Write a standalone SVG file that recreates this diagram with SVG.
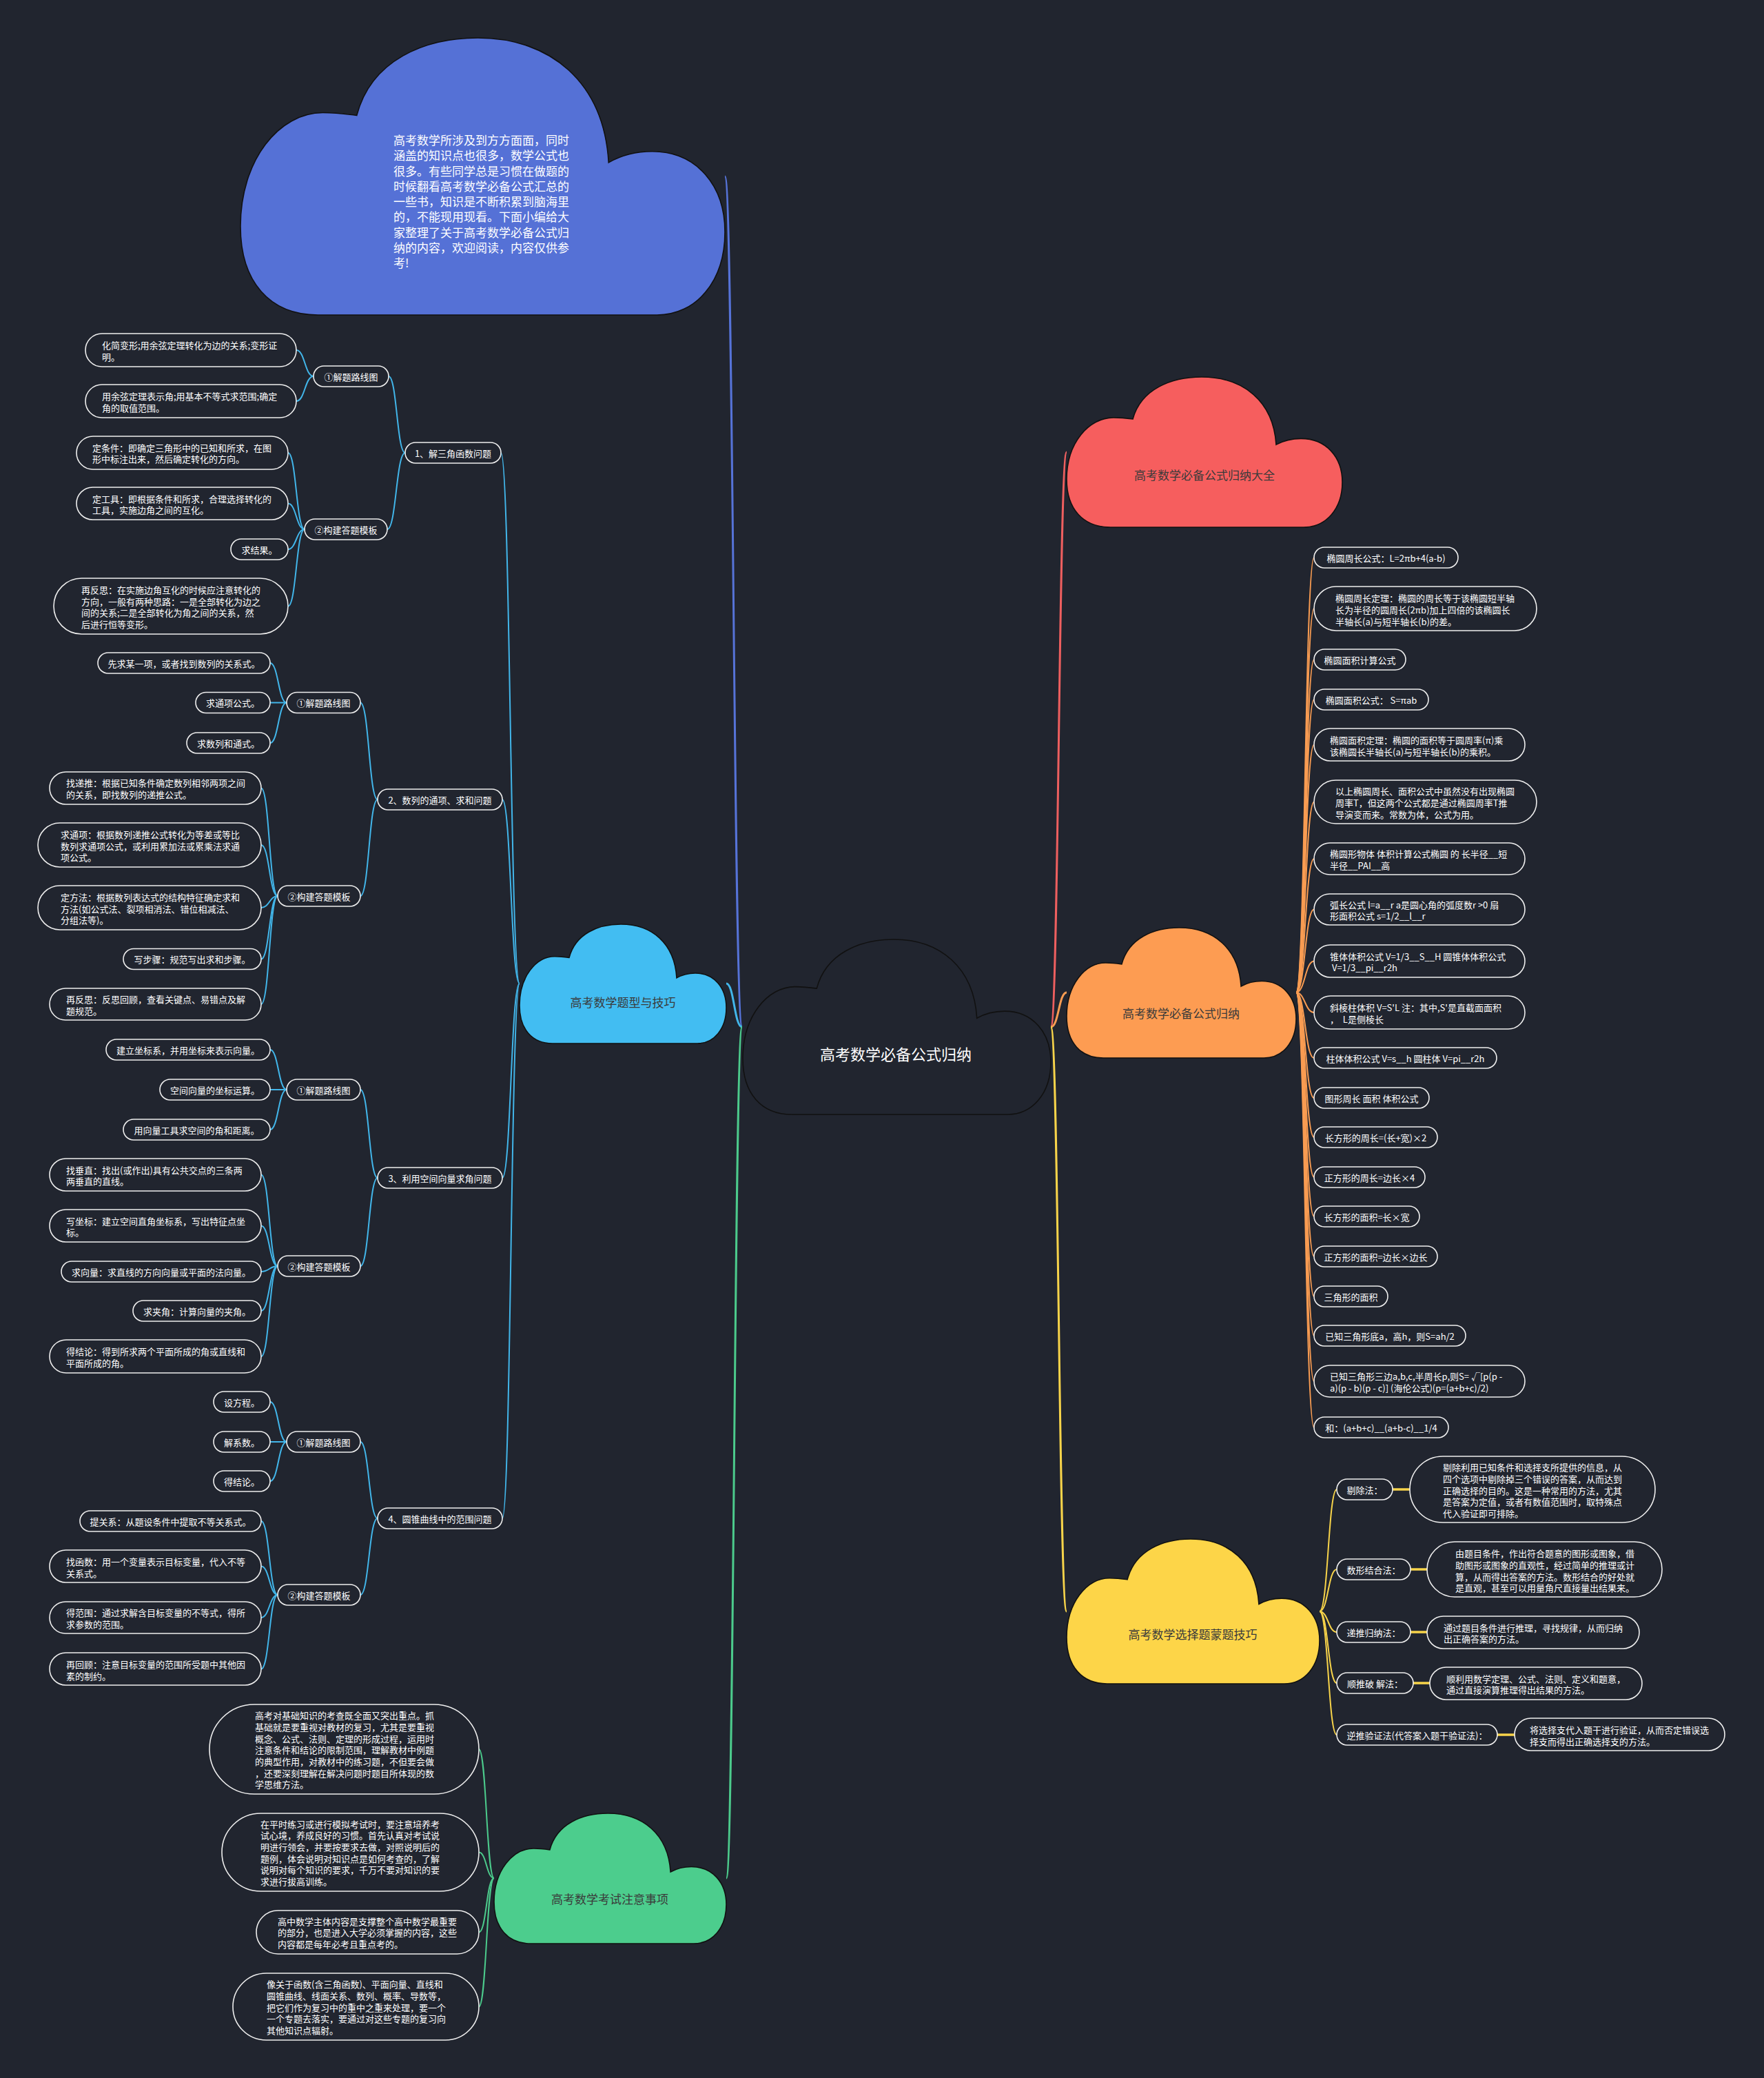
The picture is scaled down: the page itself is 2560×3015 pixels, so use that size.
<svg xmlns="http://www.w3.org/2000/svg" xmlns:xlink="http://www.w3.org/1999/xlink" width="2560" height="3015" viewBox="0 0 2560 3015">
<style>
.t{font-family:"Noto Sans CJK SC","Noto Sans",sans-serif;font-size:13px;fill:#ffffff;dominant-baseline:central}
.m{text-anchor:middle}
.nd rect{fill:#21252f;stroke:#eeeeee;stroke-width:1.6}
.cl{font-family:"Noto Sans CJK SC","Noto Sans",sans-serif;font-size:17px;fill:#3a3a3a;text-anchor:middle;dominant-baseline:central}
.lb{fill:none;stroke:#42b6ea;stroke-width:2}
.gr{fill:none;stroke:#4ccb8c;stroke-width:2}
.or{fill:none;stroke:#f99c52;stroke-width:2}
.ye{fill:none;stroke:#f8d44a;stroke-width:2}
.ye3{fill:none;stroke:#f8d44a;stroke-width:3.5}
</style>
<defs>
<path id="cloud" d="M16 100 C6 100 0 88 0 68 C0 44 8 27 17 27 C20 27 22 27.5 24 28 C27 8 38 0 49 0 C64 0 75 16 76 45 C79 42 82 41 85 41 C94 41 100 53 100 70 C100 88 94 100 86 100 Z" stroke="#111111" stroke-width="1.6" vector-effect="non-scaling-stroke"/>
</defs>
<rect x="0" y="0" width="2560" height="3015" fill="#21252f"/>

<g id="connectors">
<path d="M1077 1490 C1064.5 1490 1064.5 256 1052 256" fill="none" stroke="#5673d8" stroke-width="3"/>
<path d="M1077 1490 C1065.5 1490 1065.5 1427 1054 1427" fill="none" stroke="#42b6ea" stroke-width="3"/>
<path d="M1077 1490 C1065.5 1490 1065.5 2725 1054 2725" fill="none" stroke="#4ccb8c" stroke-width="3"/>
<path d="M1525 1490 C1536.5 1490 1536.5 656 1548 656" fill="none" stroke="#ee5f5f" stroke-width="3"/>
<path d="M1525 1490 C1536.5 1490 1536.5 1440 1548 1440" fill="none" stroke="#f99c52" stroke-width="3"/>
<path d="M1525 1490 C1536.5 1490 1536.5 2338 1548 2338" fill="none" stroke="#f8d44a" stroke-width="3"/>
<!-- light blue -->
<path class="lb" d="M754 1427 C740.5 1427 740.5 657 727 657"/>
<path class="lb" d="M754 1427 C741.5 1427 741.5 1160 729 1160"/>
<path class="lb" d="M754 1427 C741.5 1427 741.5 1709 729 1709"/>
<path class="lb" d="M754 1427 C741.5 1427 741.5 2203 729 2203"/>
<path class="lb" d="M588 657 C576 657 576 546 564 546"/>
<path class="lb" d="M588 657 C575 657 575 768 562 768"/>
<path class="lb" d="M455 546 C442.5 546 442.5 508 430 508"/>
<path class="lb" d="M455 546 C442.5 546 442.5 582 430 582"/>
<path class="lb" d="M442 768 C430 768 430 657 418 657"/>
<path class="lb" d="M442 768 C430 768 430 730.5 418 730.5"/>
<path class="lb" d="M442 768 C430 768 430 797 418 797"/>
<path class="lb" d="M442 768 C430 768 430 879.5 418 879.5"/>
<path class="lb" d="M548 1160 C535.5 1160 535.5 1019.5 523 1019.5"/>
<path class="lb" d="M548 1160 C535.5 1160 535.5 1300 523 1300"/>
<path class="lb" d="M416 1019.5 C404 1019.5 404 962 392 962"/>
<path class="lb" d="M416 1019.5 C404 1019.5 404 1019.5 392 1019.5"/>
<path class="lb" d="M416 1019.5 C404 1019.5 404 1078 392 1078"/>
<path class="lb" d="M403 1300 C391 1300 391 1143.5 379 1143.5"/>
<path class="lb" d="M403 1300 C391 1300 391 1226 379 1226"/>
<path class="lb" d="M403 1300 C391 1300 391 1317 379 1317"/>
<path class="lb" d="M403 1300 C391 1300 391 1391.5 379 1391.5"/>
<path class="lb" d="M403 1300 C391 1300 391 1457 379 1457"/>
<path class="lb" d="M548 1709 C535.5 1709 535.5 1581 523 1581"/>
<path class="lb" d="M548 1709 C535.5 1709 535.5 1837 523 1837"/>
<path class="lb" d="M416 1581 C404 1581 404 1523 392 1523"/>
<path class="lb" d="M416 1581 C404 1581 404 1581 392 1581"/>
<path class="lb" d="M416 1581 C404 1581 404 1639 392 1639"/>
<path class="lb" d="M403 1837 C391 1837 391 1704.5 379 1704.5"/>
<path class="lb" d="M403 1837 C391 1837 391 1778.5 379 1778.5"/>
<path class="lb" d="M403 1837 C391 1837 391 1845 379 1845"/>
<path class="lb" d="M403 1837 C391 1837 391 1902 379 1902"/>
<path class="lb" d="M403 1837 C391 1837 391 1968 379 1968"/>
<path class="lb" d="M548 2203 C535.5 2203 535.5 2092 523 2092"/>
<path class="lb" d="M548 2203 C535.5 2203 535.5 2314 523 2314"/>
<path class="lb" d="M416 2092 C404 2092 404 2034 392 2034"/>
<path class="lb" d="M416 2092 C404 2092 404 2092 392 2092"/>
<path class="lb" d="M416 2092 C404 2092 404 2149 392 2149"/>
<path class="lb" d="M403 2314 C391 2314 391 2207 379 2207"/>
<path class="lb" d="M403 2314 C391 2314 391 2272.5 379 2272.5"/>
<path class="lb" d="M403 2314 C391 2314 391 2347 379 2347"/>
<path class="lb" d="M403 2314 C391 2314 391 2421.5 379 2421.5"/>
<!-- green -->
<path class="gr" d="M717 2725 C706 2725 706 2538 695 2538"/>
<path class="gr" d="M717 2725 C706 2725 706 2687.5 695 2687.5"/>
<path class="gr" d="M717 2725 C706 2725 706 2803.5 695 2803.5"/>
<path class="gr" d="M717 2725 C706 2725 706 2911.5 695 2911.5"/>
<!-- orange -->
<path class="or" d="M1881 1440 C1894 1440 1894 809 1907 809"/>
<path class="or" d="M1881 1440 C1894 1440 1894 883 1907 883"/>
<path class="or" d="M1881 1440 C1894 1440 1894 957 1907 957"/>
<path class="or" d="M1881 1440 C1894 1440 1894 1015 1907 1015"/>
<path class="or" d="M1881 1440 C1894 1440 1894 1080.5 1907 1080.5"/>
<path class="or" d="M1881 1440 C1894 1440 1894 1163.5 1907 1163.5"/>
<path class="or" d="M1881 1440 C1894 1440 1894 1246 1907 1246"/>
<path class="or" d="M1881 1440 C1894 1440 1894 1319.5 1907 1319.5"/>
<path class="or" d="M1881 1440 C1894 1440 1894 1394.5 1907 1394.5"/>
<path class="or" d="M1881 1440 C1894 1440 1894 1469 1907 1469"/>
<path class="or" d="M1881 1440 C1894 1440 1894 1535 1907 1535"/>
<path class="or" d="M1881 1440 C1894 1440 1894 1593 1907 1593"/>
<path class="or" d="M1881 1440 C1894 1440 1894 1650 1907 1650"/>
<path class="or" d="M1881 1440 C1894 1440 1894 1708 1907 1708"/>
<path class="or" d="M1881 1440 C1894 1440 1894 1765 1907 1765"/>
<path class="or" d="M1881 1440 C1894 1440 1894 1823 1907 1823"/>
<path class="or" d="M1881 1440 C1894 1440 1894 1881 1907 1881"/>
<path class="or" d="M1881 1440 C1894 1440 1894 1938 1907 1938"/>
<path class="or" d="M1881 1440 C1894 1440 1894 2004 1907 2004"/>
<path class="or" d="M1881 1440 C1894 1440 1894 2071 1907 2071"/>
<!-- yellow -->
<path class="ye" d="M1915 2338 C1927.5 2338 1927.5 2161 1940 2161"/>
<path class="ye" d="M1915 2338 C1927.5 2338 1927.5 2277 1940 2277"/>
<path class="ye" d="M1915 2338 C1927.5 2338 1927.5 2368 1940 2368"/>
<path class="ye" d="M1915 2338 C1927.5 2338 1927.5 2442 1940 2442"/>
<path class="ye" d="M1915 2338 C1927.5 2338 1927.5 2517 1940 2517"/>
<path class="ye3" d="M2021 2161 L2046 2161"/>
<path class="ye3" d="M2047 2277 L2071 2277"/>
<path class="ye3" d="M2047 2368 L2071 2368"/>
<path class="ye3" d="M2051 2442 L2075 2442"/>
<path class="ye3" d="M2173 2517 L2198 2517"/>
</g>

<!-- clouds -->
<g id="intro">
<use xlink:href="#cloud" href="#cloud" fill="#5571d6" transform="translate(349 55) scale(7.03 4.02)"/>
<text class="t" style="font-size:17px">
<tspan x="571" y="202">高考数学所涉及到方方面面，同时</tspan>
<tspan x="571" y="224.25">涵盖的知识点也很多，数学公式也</tspan>
<tspan x="571" y="246.5">很多。有些同学总是习惯在做题的</tspan>
<tspan x="571" y="268.75">时候翻看高考数学必备公式汇总的</tspan>
<tspan x="571" y="291">一些书，知识是不断积累到脑海里</tspan>
<tspan x="571" y="313.25">的，不能现用现看。下面小编给大</tspan>
<tspan x="571" y="335.5">家整理了关于高考数学必备公式归</tspan>
<tspan x="571" y="357.75">纳的内容，欢迎阅读，内容仅供参</tspan>
<tspan x="571" y="380">考!</tspan>
</text>
</g>
<g id="root">
<use xlink:href="#cloud" href="#cloud" fill="#21252f" transform="translate(1078 1363) scale(4.47 2.54)"/>
<text class="t m" x="1300" y="1528" style="font-size:22px">高考数学必备公式归纳</text>
</g>
<g id="c-red">
<use xlink:href="#cloud" href="#cloud" fill="#f65e5e" transform="translate(1548 547) scale(4.00 2.18)"/>
<text class="cl" x="1748" y="688">高考数学必备公式归纳大全</text>
</g>
<g id="c-orange">
<use xlink:href="#cloud" href="#cloud" fill="#fd9c52" transform="translate(1548 1346) scale(3.33 1.89)"/>
<text class="cl" x="1714" y="1469">高考数学必备公式归纳</text>
</g>
<g id="c-yellow">
<use xlink:href="#cloud" href="#cloud" fill="#fdd548" transform="translate(1548 2233) scale(3.67 2.10)"/>
<text class="cl" x="1731" y="2370">高考数学选择题蒙题技巧</text>
</g>
<g id="c-lightblue">
<use xlink:href="#cloud" href="#cloud" fill="#42bdf2" transform="translate(754 1341) scale(3.00 1.73)"/>
<text class="cl" x="904" y="1453">高考数学题型与技巧</text>
</g>
<g id="c-green">
<use xlink:href="#cloud" href="#cloud" fill="#4ccd8d" transform="translate(717 2631) scale(3.37 1.89)"/>
<text class="cl" x="885" y="2754">高考数学考试注意事项</text>
</g>

<!-- subtree 1 -->
<g id="s1" class="nd"><rect x="588" y="642" width="139" height="30" rx="15"/><text class="t m" x="657.5" y="657">1、解三角函数问题</text></g>
<g id="s1r" class="nd"><rect x="455" y="531" width="109" height="30" rx="15"/><text class="t m" x="509.5" y="546">①解题路线图</text></g>
<g id="s1ra" class="nd"><rect x="124" y="484" width="306" height="48" rx="24"/><text class="t"><tspan x="148" y="500">化简变形;用余弦定理转化为边的关系;变形证</tspan><tspan x="148" y="517">明。</tspan></text></g>
<g id="s1rb" class="nd"><rect x="124" y="558" width="306" height="48" rx="24"/><text class="t"><tspan x="148" y="574">用余弦定理表示角;用基本不等式求范围;确定</tspan><tspan x="148" y="591">角的取值范围。</tspan></text></g>
<g id="s1t" class="nd"><rect x="442" y="753" width="120" height="30" rx="15"/><text class="t m" x="502" y="768">②构建答题模板</text></g>
<g id="s1ta" class="nd"><rect x="111" y="633" width="307" height="48" rx="24"/><text class="t"><tspan x="134" y="649">定条件：即确定三角形中的已知和所求，在图</tspan><tspan x="134" y="665">形中标注出来，然后确定转化的方向。</tspan></text></g>
<g id="s1tb" class="nd"><rect x="111" y="707" width="307" height="47" rx="23.5"/><text class="t"><tspan x="134" y="723">定工具：即根据条件和所求，合理选择转化的</tspan><tspan x="134" y="739">工具，实施边角之间的互化。</tspan></text></g>
<g id="s1tc" class="nd"><rect x="335" y="782" width="83" height="30" rx="15"/><text class="t m" x="376.5" y="797">求结果。</text></g>
<g id="s1td" class="nd"><rect x="78" y="839" width="340" height="81" rx="40.5"/><text class="t"><tspan x="118" y="855">再反思：在实施边角互化的时候应注意转化的</tspan><tspan x="118" y="872">方向，一般有两种思路：一是全部转化为边之</tspan><tspan x="118" y="888">间的关系;二是全部转化为角之间的关系，然</tspan><tspan x="118" y="905">后进行恒等变形。</tspan></text></g>

<!-- subtree 2 -->
<g id="s2" class="nd"><rect x="548" y="1145" width="181" height="30" rx="15"/><text class="t m" x="638.5" y="1160">2、数列的通项、求和问题</text></g>
<g id="s2r" class="nd"><rect x="416" y="1004.5" width="107" height="30" rx="15"/><text class="t m" x="469.5" y="1019.5">①解题路线图</text></g>
<g id="s2ra" class="nd"><rect x="142" y="947" width="250" height="30" rx="15"/><text class="t m" x="267" y="962">先求某一项，或者找到数列的关系式。</text></g>
<g id="s2rb" class="nd"><rect x="284" y="1004.5" width="108" height="30" rx="15"/><text class="t m" x="338" y="1019.5">求通项公式。</text></g>
<g id="s2rc" class="nd"><rect x="271" y="1063" width="121" height="30" rx="15"/><text class="t m" x="331.5" y="1078">求数列和通式。</text></g>
<g id="s2t" class="nd"><rect x="403" y="1285" width="120" height="30" rx="15"/><text class="t m" x="463" y="1300">②构建答题模板</text></g>
<g id="s2ta" class="nd"><rect x="72" y="1120" width="307" height="47" rx="23.5"/><text class="t"><tspan x="96" y="1135">找递推：根据已知条件确定数列相邻两项之间</tspan><tspan x="96" y="1152">的关系，即找数列的递推公式。</tspan></text></g>
<g id="s2tb" class="nd"><rect x="55" y="1194" width="324" height="64" rx="32"/><text class="t"><tspan x="88" y="1210">求通项：根据数列递推公式转化为等差或等比</tspan><tspan x="88" y="1226.5">数列求通项公式，或利用累加法或累乘法求通</tspan><tspan x="88" y="1243">项公式。</tspan></text></g>
<g id="s2tc" class="nd"><rect x="55" y="1285" width="324" height="64" rx="32"/><text class="t"><tspan x="88" y="1301">定方法：根据数列表达式的结构特征确定求和</tspan><tspan x="88" y="1317.5">方法(如公式法、裂项相消法、错位相减法、</tspan><tspan x="88" y="1334">分组法等)。</tspan></text></g>
<g id="s2td" class="nd"><rect x="179" y="1376.5" width="200" height="30" rx="15"/><text class="t m" x="279" y="1391.5">写步骤：规范写出求和步骤。</text></g>
<g id="s2te" class="nd"><rect x="72" y="1434" width="307" height="46" rx="23"/><text class="t"><tspan x="96" y="1449">再反思：反思回顾，查看关键点、易错点及解</tspan><tspan x="96" y="1466">题规范。</tspan></text></g>

<!-- subtree 3 -->
<g id="s3" class="nd"><rect x="548" y="1694" width="181" height="30" rx="15"/><text class="t m" x="638.5" y="1709">3、利用空间向量求角问题</text></g>
<g id="s3r" class="nd"><rect x="416" y="1566" width="107" height="30" rx="15"/><text class="t m" x="469.5" y="1581">①解题路线图</text></g>
<g id="s3ra" class="nd"><rect x="154" y="1508" width="238" height="30" rx="15"/><text class="t m" x="273" y="1523">建立坐标系，并用坐标来表示向量。</text></g>
<g id="s3rb" class="nd"><rect x="232" y="1566" width="160" height="30" rx="15"/><text class="t m" x="312" y="1581">空间向量的坐标运算。</text></g>
<g id="s3rc" class="nd"><rect x="179" y="1624" width="213" height="30" rx="15"/><text class="t m" x="285.5" y="1639">用向量工具求空间的角和距离。</text></g>
<g id="s3t" class="nd"><rect x="403" y="1822" width="120" height="30" rx="15"/><text class="t m" x="463" y="1837">②构建答题模板</text></g>
<g id="s3ta" class="nd"><rect x="72" y="1681" width="307" height="47" rx="23.5"/><text class="t"><tspan x="96" y="1697">找垂直：找出(或作出)具有公共交点的三条两</tspan><tspan x="96" y="1713">两垂直的直线。</tspan></text></g>
<g id="s3tb" class="nd"><rect x="72" y="1755" width="307" height="47" rx="23.5"/><text class="t"><tspan x="96" y="1771">写坐标：建立空间直角坐标系，写出特征点坐</tspan><tspan x="96" y="1787">标。</tspan></text></g>
<g id="s3tc" class="nd"><rect x="89" y="1830" width="290" height="30" rx="15"/><text class="t m" x="234" y="1845">求向量：求直线的方向向量或平面的法向量。</text></g>
<g id="s3td" class="nd"><rect x="193" y="1887" width="186" height="30" rx="15"/><text class="t m" x="286" y="1902">求夹角：计算向量的夹角。</text></g>
<g id="s3te" class="nd"><rect x="72" y="1944" width="307" height="48" rx="24"/><text class="t"><tspan x="96" y="1960">得结论：得到所求两个平面所成的角或直线和</tspan><tspan x="96" y="1977">平面所成的角。</tspan></text></g>

<!-- subtree 4 -->
<g id="s4" class="nd"><rect x="548" y="2188" width="181" height="30" rx="15"/><text class="t m" x="638.5" y="2203">4、圆锥曲线中的范围问题</text></g>
<g id="s4r" class="nd"><rect x="416" y="2077" width="107" height="30" rx="15"/><text class="t m" x="469.5" y="2092">①解题路线图</text></g>
<g id="s4ra" class="nd"><rect x="310" y="2019" width="82" height="30" rx="15"/><text class="t m" x="351" y="2034">设方程。</text></g>
<g id="s4rb" class="nd"><rect x="310" y="2077" width="82" height="30" rx="15"/><text class="t m" x="351" y="2092">解系数。</text></g>
<g id="s4rc" class="nd"><rect x="310" y="2134" width="82" height="30" rx="15"/><text class="t m" x="351" y="2149">得结论。</text></g>
<g id="s4t" class="nd"><rect x="403" y="2299" width="120" height="30" rx="15"/><text class="t m" x="463" y="2314">②构建答题模板</text></g>
<g id="s4ta" class="nd"><rect x="116" y="2192" width="263" height="30" rx="15"/><text class="t m" x="247.5" y="2207">提关系：从题设条件中提取不等关系式。</text></g>
<g id="s4tb" class="nd"><rect x="72" y="2249" width="307" height="47" rx="23.5"/><text class="t"><tspan x="96" y="2265">找函数：用一个变量表示目标变量，代入不等</tspan><tspan x="96" y="2282">关系式。</tspan></text></g>
<g id="s4tc" class="nd"><rect x="72" y="2324" width="307" height="46" rx="23"/><text class="t"><tspan x="96" y="2339">得范围：通过求解含目标变量的不等式，得所</tspan><tspan x="96" y="2356">求参数的范围。</tspan></text></g>
<g id="s4td" class="nd"><rect x="72" y="2398" width="307" height="47" rx="23.5"/><text class="t"><tspan x="96" y="2414">再回顾：注意目标变量的范围所受题中其他因</tspan><tspan x="96" y="2431">素的制约。</tspan></text></g>

<!-- green -->
<g id="g1" class="nd"><rect x="304" y="2473" width="391" height="130" rx="65"/><text class="t"><tspan x="370" y="2488">高考对基础知识的考查既全面又突出重点。抓</tspan><tspan x="370" y="2505">基础就是要重视对教材的复习，尤其是要重视</tspan><tspan x="370" y="2522">概念、公式、法则、定理的形成过程，运用时</tspan><tspan x="370" y="2538">注意条件和结论的限制范围，理解教材中例题</tspan><tspan x="370" y="2555">的典型作用，对教材中的练习题，不但要会做</tspan><tspan x="370" y="2572">，还要深刻理解在解决问题时题目所体现的数</tspan><tspan x="370" y="2588">学思维方法。</tspan></text></g>
<g id="g2" class="nd"><rect x="322" y="2631" width="373" height="113" rx="56.5"/><text class="t"><tspan x="378" y="2646">在平时练习或进行模拟考试时，要注意培养考</tspan><tspan x="378" y="2662">试心境，养成良好的习惯。首先认真对考试说</tspan><tspan x="378" y="2679">明进行领会，并要按要求去做，对照说明后的</tspan><tspan x="378" y="2696">题例，体会说明对知识点是如何考查的，了解</tspan><tspan x="378" y="2712">说明对每个知识的要求，千万不要对知识的要</tspan><tspan x="378" y="2729">求进行拔高训练。</tspan></text></g>
<g id="g3" class="nd"><rect x="372" y="2772" width="323" height="63" rx="31.5"/><text class="t"><tspan x="403" y="2787">高中数学主体内容是支撑整个高中数学最重要</tspan><tspan x="403" y="2803">的部分，也是进入大学必须掌握的内容，这些</tspan><tspan x="403" y="2820">内容都是每年必考且重点考的。</tspan></text></g>
<g id="g4" class="nd"><rect x="338" y="2863" width="357" height="97" rx="48.5"/><text class="t"><tspan x="387" y="2878">像关于函数(含三角函数)、平面向量、直线和</tspan><tspan x="387" y="2895">圆锥曲线、线面关系、数列、概率、导数等，</tspan><tspan x="387" y="2912">把它们作为复习中的重中之重来处理，要一个</tspan><tspan x="387" y="2928">一个专题去落实，要通过对这些专题的复习向</tspan><tspan x="387" y="2945">其他知识点辐射。</tspan></text></g>

<!-- orange -->
<g id="o1" class="nd"><rect x="1907" y="794" width="209" height="30" rx="15"/><text class="t m" x="2011.5" y="809">椭圆周长公式：L=2πb+4(a-b)</text></g>
<g id="o2" class="nd"><rect x="1907" y="851" width="323" height="64" rx="32"/><text class="t"><tspan x="1938" y="867">椭圆周长定理：椭圆的周长等于该椭圆短半轴</tspan><tspan x="1938" y="884">长为半径的圆周长(2πb)加上四倍的该椭圆长</tspan><tspan x="1938" y="901">半轴长(a)与短半轴长(b)的差。</tspan></text></g>
<g id="o3" class="nd"><rect x="1907" y="942" width="133" height="30" rx="15"/><text class="t m" x="1973.5" y="957">椭圆面积计算公式</text></g>
<g id="o4" class="nd"><rect x="1907" y="1000" width="166" height="30" rx="15"/><text class="t m" x="1990" y="1015">椭圆面积公式： S=πab</text></g>
<g id="o5" class="nd"><rect x="1907" y="1057" width="306" height="47" rx="23.5"/><text class="t"><tspan x="1930" y="1073">椭圆面积定理：椭圆的面积等于圆周率(π)乘</tspan><tspan x="1930" y="1090">该椭圆长半轴长(a)与短半轴长(b)的乘积。</tspan></text></g>
<g id="o6" class="nd"><rect x="1907" y="1132" width="323" height="63" rx="31.5"/><text class="t"><tspan x="1938" y="1147">以上椭圆周长、面积公式中虽然没有出现椭圆</tspan><tspan x="1938" y="1164">周率T，但这两个公式都是通过椭圆周率T推</tspan><tspan x="1938" y="1181">导演变而来。常数为体，公式为用。</tspan></text></g>
<g id="o7" class="nd"><rect x="1907" y="1223" width="306" height="46" rx="23"/><text class="t" xml:space="preserve"><tspan x="1930" y="1238">椭圆形物体 体积计算公式椭圆 的 长半径__短</tspan><tspan x="1930" y="1255">半径__PAI__高</tspan></text></g>
<g id="o8" class="nd"><rect x="1907" y="1297" width="306" height="45" rx="22.5"/><text class="t" xml:space="preserve"><tspan x="1930" y="1312">弧长公式 l=a__r a是圆心角的弧度数r &gt;0 扇</tspan><tspan x="1930" y="1328">形面积公式 s=1/2__l__r</tspan></text></g>
<g id="o9" class="nd"><rect x="1907" y="1371" width="306" height="47" rx="23.5"/><text class="t" xml:space="preserve"><tspan x="1930" y="1387">锥体体积公式 V=1/3__S__H 圆锥体体积公式</tspan><tspan x="1930" y="1403"> V=1/3__pi__r2h</tspan></text></g>
<g id="o10" class="nd"><rect x="1907" y="1445" width="306" height="48" rx="24"/><text class="t" xml:space="preserve"><tspan x="1930" y="1461">斜棱柱体积 V=S'L 注：其中,S'是直截面面积</tspan><tspan x="1930" y="1478">，  L是侧棱长</tspan></text></g>
<g id="o11" class="nd"><rect x="1907" y="1520" width="265" height="30" rx="15"/><text class="t m" x="2039.5" y="1535">柱体体积公式 V=s__h 圆柱体 V=pi__r2h</text></g>
<g id="o12" class="nd"><rect x="1907" y="1578" width="167" height="30" rx="15"/><text class="t m" x="1990.5" y="1593">图形周长 面积 体积公式</text></g>
<g id="o13" class="nd"><rect x="1907" y="1635" width="179" height="30" rx="15"/><text class="t m" x="1996.5" y="1650">长方形的周长=(长+宽)×2</text></g>
<g id="o14" class="nd"><rect x="1907" y="1693" width="161" height="30" rx="15"/><text class="t m" x="1987.5" y="1708">正方形的周长=边长×4</text></g>
<g id="o15" class="nd"><rect x="1907" y="1750" width="153" height="30" rx="15"/><text class="t m" x="1983.5" y="1765">长方形的面积=长×宽</text></g>
<g id="o16" class="nd"><rect x="1907" y="1808" width="179" height="30" rx="15"/><text class="t m" x="1996.5" y="1823">正方形的面积=边长×边长</text></g>
<g id="o17" class="nd"><rect x="1907" y="1866" width="107" height="30" rx="15"/><text class="t m" x="1960.5" y="1881">三角形的面积</text></g>
<g id="o18" class="nd"><rect x="1907" y="1923" width="220" height="30" rx="15"/><text class="t m" x="2017" y="1938">已知三角形底a，高h，则S=ah/2</text></g>
<g id="o19" class="nd"><rect x="1907" y="1981" width="306" height="46" rx="23"/><text class="t"><tspan x="1930" y="1996">已知三角形三边a,b,c,半周长p,则S= √[p(p -</tspan><tspan x="1930" y="2013">a)(p - b)(p - c)] (海伦公式)(p=(a+b+c)/2)</tspan></text></g>
<g id="o20" class="nd"><rect x="1907" y="2056" width="195" height="30" rx="15"/><text class="t m" x="2004.5" y="2071">和：(a+b+c)__(a+b-c)__1/4</text></g>

<!-- yellow -->
<g id="y1" class="nd"><rect x="1940" y="2146" width="81" height="30" rx="15"/><text class="t m" x="1980.5" y="2161">剔除法：</text></g>
<g id="y1d" class="nd"><rect x="2046" y="2113" width="356" height="96" rx="48"/><text class="t"><tspan x="2094" y="2128">剔除利用已知条件和选择支所提供的信息，从</tspan><tspan x="2094" y="2145">四个选项中剔除掉三个错误的答案，从而达到</tspan><tspan x="2094" y="2162">正确选择的目的。这是一种常用的方法，尤其</tspan><tspan x="2094" y="2178">是答案为定值，或者有数值范围时，取特殊点</tspan><tspan x="2094" y="2195">代入验证即可排除。</tspan></text></g>
<g id="y2" class="nd"><rect x="1940" y="2262" width="107" height="30" rx="15"/><text class="t m" x="1993.5" y="2277">数形结合法：</text></g>
<g id="y2d" class="nd"><rect x="2071" y="2237" width="341" height="80" rx="40"/><text class="t"><tspan x="2112" y="2253">由题目条件，作出符合题意的图形或图象，借</tspan><tspan x="2112" y="2270">助图形或图象的直观性，经过简单的推理或计</tspan><tspan x="2112" y="2287">算，从而得出答案的方法。数形结合的好处就</tspan><tspan x="2112" y="2303">是直观，甚至可以用量角尺直接量出结果来。</tspan></text></g>
<g id="y3" class="nd"><rect x="1940" y="2353" width="107" height="30" rx="15"/><text class="t m" x="1993.5" y="2368">递推归纳法：</text></g>
<g id="y3d" class="nd"><rect x="2071" y="2345" width="308" height="47" rx="23.5"/><text class="t"><tspan x="2095" y="2361">通过题目条件进行推理，寻找规律，从而归纳</tspan><tspan x="2095" y="2377">出正确答案的方法。</tspan></text></g>
<g id="y4" class="nd"><rect x="1940" y="2427" width="111" height="30" rx="15"/><text class="t m" x="1995.5" y="2442">顺推破 解法：</text></g>
<g id="y4d" class="nd"><rect x="2075" y="2419" width="308" height="47" rx="23.5"/><text class="t"><tspan x="2099" y="2435">顺利用数学定理、公式、法则、定义和题意，</tspan><tspan x="2099" y="2451">通过直接演算推理得出结果的方法。</tspan></text></g>
<g id="y5" class="nd"><rect x="1940" y="2502" width="233" height="30" rx="15"/><text class="t m" x="2056.5" y="2517">逆推验证法(代答案入题干验证法)：</text></g>
<g id="y5d" class="nd"><rect x="2198" y="2493" width="305" height="47" rx="23.5"/><text class="t"><tspan x="2220" y="2509">将选择支代入题干进行验证，从而否定错误选</tspan><tspan x="2220" y="2526">择支而得出正确选择支的方法。</tspan></text></g>
</svg>
